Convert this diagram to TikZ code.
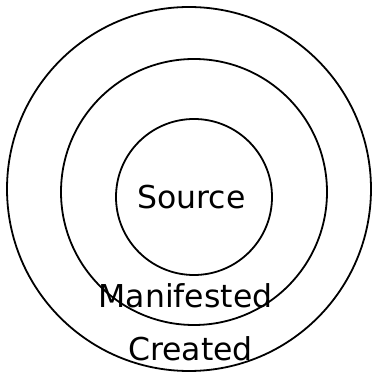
\documentclass[tikz,border=0pt]{standalone}
\usepackage{fontspec}
\setmainfont{DejaVu Sans}

\begin{document}
\begin{tikzpicture}[x=1pt, y=1pt, ring/.style={draw, line width=1.8pt}, lbl/.style={anchor=base, inner sep=0pt, font=\fontsize{31.5}{36}\selectfont}]
            \useasboundingbox (0, 0) rectangle (372, 372);
            \draw[ring] (189, 183) circle (182);
            \draw[ring] (194, 180) circle (133);
            \draw[ring] (194, 175) circle (78);
            \node[lbl] (source) at (191.5, 163) {Source};
            \node[lbl] (manifested) at (185.5, 64) {Manifested};
            \node[lbl] (created) at (190.5, 11) {Created};
        \end{tikzpicture}
\end{document}
